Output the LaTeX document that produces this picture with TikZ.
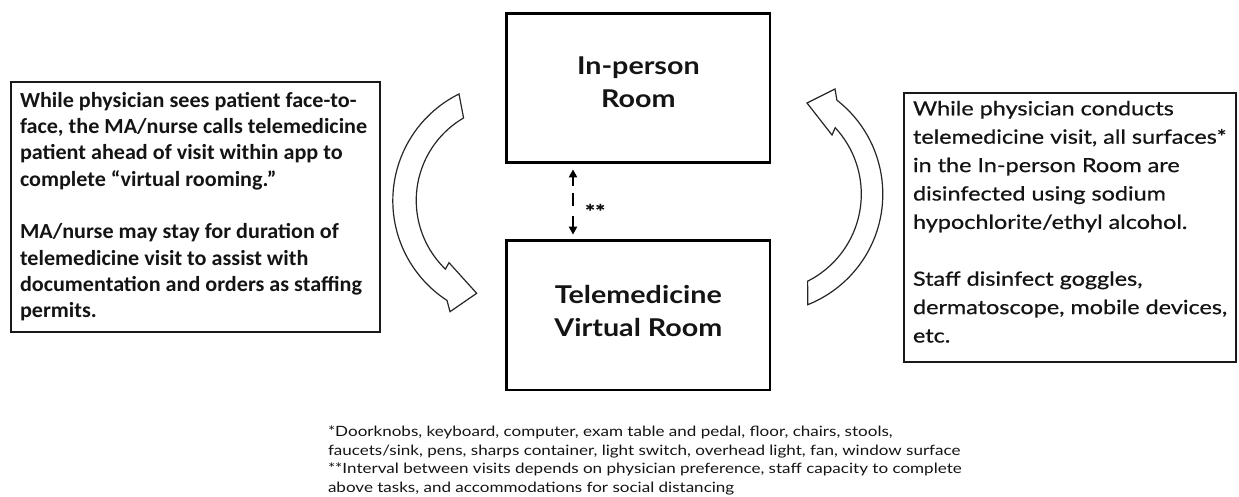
\documentclass[tikz,border=0pt]{standalone}
\usepackage{fontspec}
\usetikzlibrary{arrows.meta}
\setmainfont{Lato}
\newfontfamily\avbook[FakeStretch=1.20]{Lato}
\newfontfamily\avhead[FakeStretch=1.17]{Lato}
\newfontfamily\avmed[FakeStretch=1.20,FakeBold=0.7]{Lato}
\newfontfamily\calib[FakeStretch=1.03]{Carlito}
\tikzset{
  roombox/.style={draw=black, line width=2.7pt, minimum width=263.3pt, minimum height=149pt, inner sep=0pt},
  sidebox/.style={draw=black!90, line width=1.3pt, inner sep=0pt},
  txt/.style={inner sep=0pt, outer sep=0pt, text=black!92},
  curvedarrow/.style={draw=black!85, line width=1.2pt, fill=white, line join=miter},
  gaparrow/.style={line width=2.6pt, {Triangle[length=8pt,width=8pt]}-{Triangle[length=8pt,width=8pt]},
     dash pattern=on 9pt off 7pt on 13pt off 10pt on 13pt, shorten <=5.7pt, shorten >=4.7pt}
}
\begin{document}
\begin{tikzpicture}[x=1pt,y=1pt]
\useasboundingbox (0,0) rectangle (1239,-497);
\fill[white] (0,0) rectangle (1239,-497);

% room boxes
\node[roombox] (inperson) at (638.35,-87.8) {};
\node[roombox, minimum height=149.3pt] (virtual) at (638.35,-315.35) {};
\node[txt, anchor=base] (inpersontxt) at (638.35,-75) {\parbox[t]{250pt}{\centering\avhead\bfseries\fontsize{24.5}{33}\selectfont In-person\\Room}};
\node[txt, anchor=base] (virtualtxt) at (638.35,-303.3) {\parbox[t]{250pt}{\centering\avhead\bfseries\fontsize{24.5}{33}\selectfont Telemedicine\\Virtual Room}};

% side boxes
\node[sidebox, minimum width=369pt, minimum height=250pt] (leftbox) at (195.5,-207) {};
\node[sidebox, minimum width=332pt, minimum height=269pt] (rightbox) at (1070,-227.5) {};

\node[txt, anchor=base west] (lefttxt) at (20,-107.3) {\parbox[t]{358pt}{\raggedright\calib\bfseries\fontsize{21.5}{26.3}\selectfont
While physician sees patient face-to-\\
face, the MA/nurse calls telemedicine\\
patient ahead of visit within app to\\
complete “virtual rooming.”\\[26.3pt]
MA/nurse may stay for duration of\\
telemedicine visit to assist with\\
documentation and orders as staffing\\
permits.}};

\node[txt, anchor=base west] (righttxt) at (913,-115.3) {\parbox[t]{322pt}{\raggedright\avmed\fontsize{19.5}{28.4}\selectfont
While physician conducts\\
telemedicine visit, all surfaces*\\
in the In-person Room are\\
disinfected using sodium\\
hypochlorite/ethyl alcohol.\\[28.4pt]
Staff disinfect goggles,\\
dermatoscope, mobile devices,\\
etc.}};

% curved block arrows
\draw[curvedarrow] (459,-94) arc[start angle=116.35, end angle=237, radius=119]
  -- (450,-311.7) -- (476.7,-293.3) -- (449,-262.7) -- (445.4,-269.1)
  arc[start angle=226, end angle=120.3, radius=95.5] -- cycle;
\draw[curvedarrow] (807,-103) -- (835,-89) -- (836.9,-100.2)
  arc[start angle=52.1, end angle=-68.3, radius=119] -- (807.6,-281.2)
  arc[start angle=-63.3, end angle=42.9, radius=97.5] -- (832,-135) -- cycle;

% dashed interval arrow
\draw[gaparrow] ([xshift=-65.35pt]inperson.south) -- ([xshift=-65.35pt]virtual.north);
\node[txt, anchor=base west] (stars) at (585,-219) {\avmed\bfseries\fontsize{20}{20}\selectfont **};

% footnotes
\node[txt, anchor=base west] (notes) at (328,-436.5) {\parbox[t]{700pt}{\raggedright\avbook\fontsize{14.2}{18.6}\selectfont
*Doorknobs, keyboard, computer, exam table and pedal, floor, chairs, stools,\\
faucets/sink, pens, sharps container, light switch, overhead light, fan, window surface\\{}
**Interval between visits depends on physician preference, staff capacity to complete\\
above tasks, and accommodations for social distancing}};
\end{tikzpicture}
\end{document}
